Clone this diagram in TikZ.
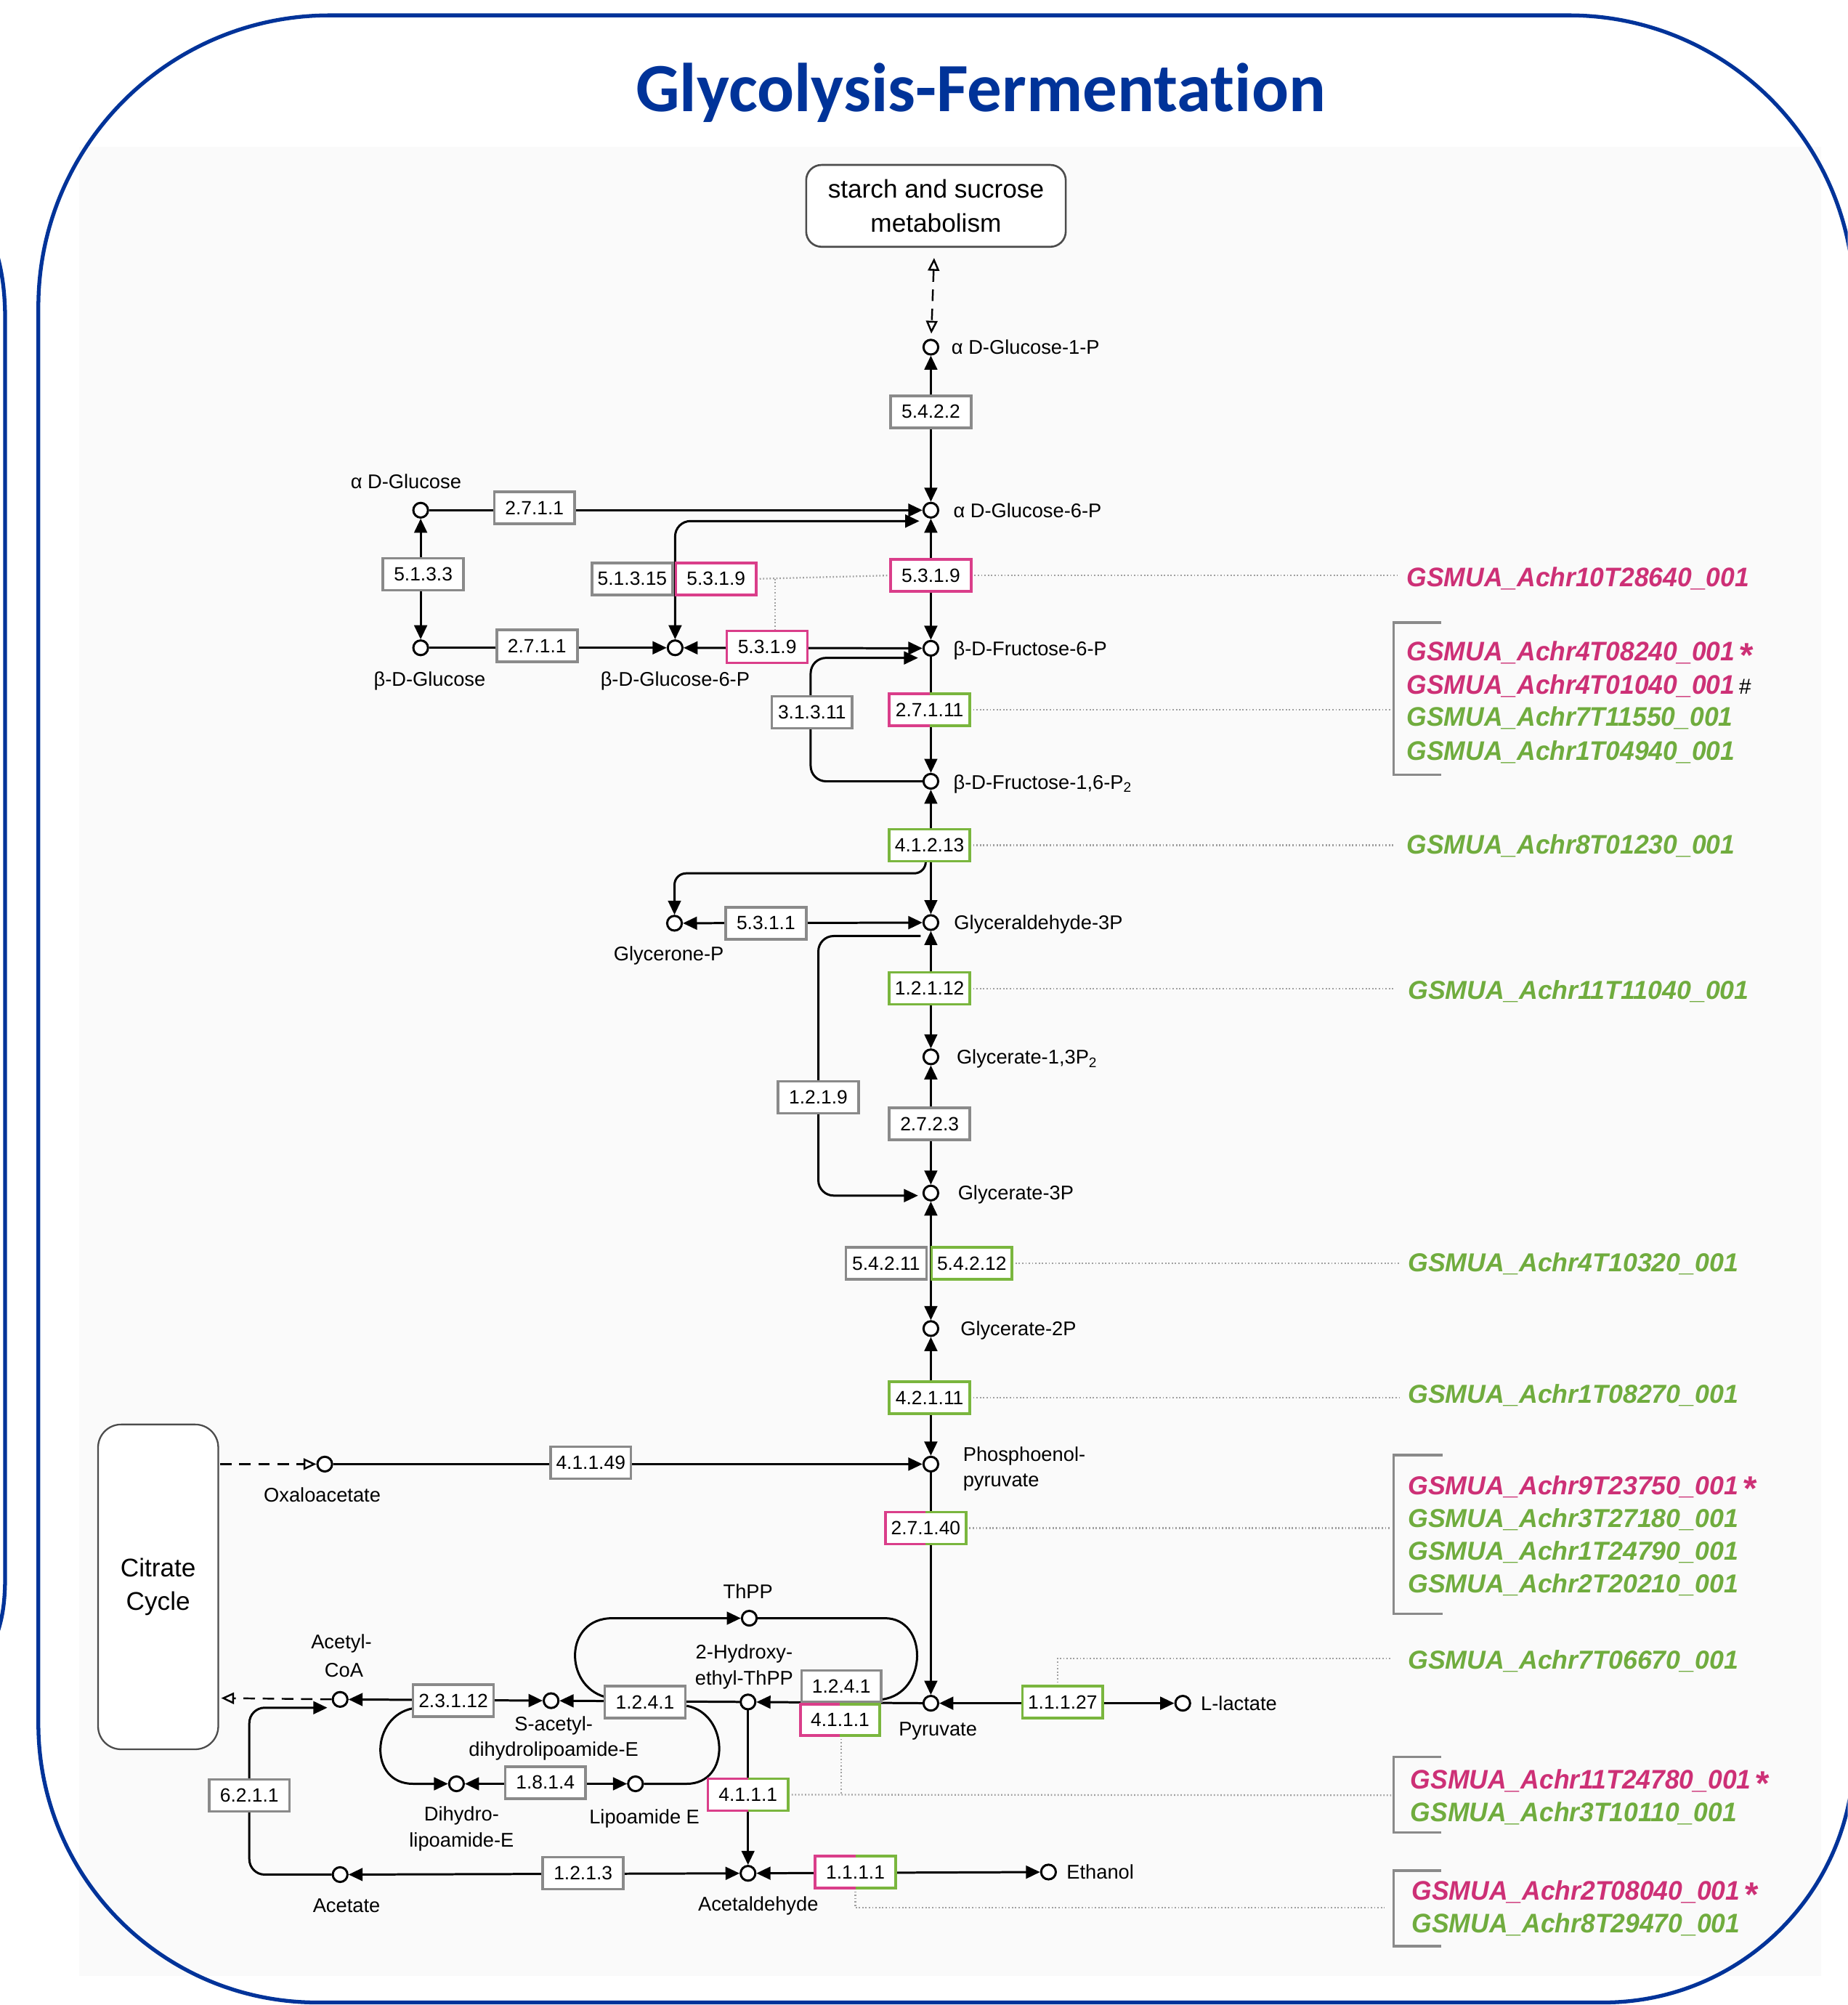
\documentclass[tikz,border=0pt]{standalone}
\usepackage{fontspec}
\setmainfont{Liberation Sans}
\newfontfamily\titlefont{Carlito}[RawFeature={-liga}]
\usepackage{graphicx}
\usetikzlibrary{arrows.meta}
\pgfdeclarelayer{bg}
\pgfdeclarelayer{lines}
\pgfsetlayers{bg,lines,main}
\definecolor{fblue}{RGB}{0,51,153}
\definecolor{pinkc}{RGB}{218,62,138}
\definecolor{greenc}{RGB}{122,182,62}
\definecolor{ecgray}{RGB}{138,138,138}
\definecolor{dotgray}{RGB}{160,160,160}
\definecolor{gpink}{RGB}{205,48,118}
\definecolor{ggreen}{RGB}{112,172,62}
\newcommand\labfont{\fontsize{15.5}{20.5}\selectfont}
\newcommand\ecfont{\fontsize{15}{18}\selectfont}
\newcommand\gA[1]{{\fontsize{21}{23}\selectfont\bfseries\itshape\scalebox{0.96}[1]{#1}}}
\newcommand\gB[1]{{\fontsize{20.3}{22}\selectfont\bfseries\itshape #1}}
\newcommand\gstar{\kern4pt\raisebox{-5pt}[12pt][0pt]{\fontsize{27}{27}\selectfont\bfseries *}}
\newcommand\ghash{\kern3pt{\color{black}\fontsize{17}{17}\selectfont\itshape\#}}
\newcommand\splitbox[1]{%
  \draw[pinkc, line width=2pt] (#1.north) -- (#1.north west) -- (#1.south west) -- (#1.south);
  \draw[greenc, line width=2pt] (#1.north) -- (#1.north east) -- (#1.south east) -- (#1.south);}
\begin{document}
\begin{tikzpicture}[x=1pt,y=-1pt,
  >={Triangle[length=11pt,width=10pt]},
  met/.style={circle, draw, line width=1.7pt, fill=white, minimum size=11.5pt, inner sep=0pt},
  lab/.style={inner sep=0pt, font=\labfont},
  ecbox/.style={rectangle, draw=ecgray, line width=2pt, fill=white, minimum width=63pt, minimum height=25pt, inner sep=0pt, outer sep=0pt, font=\ecfont},
  ecpink/.style={ecbox, draw=pinkc},
  ecgreen/.style={ecbox, draw=greenc},
  ecsplit/.style={ecbox, draw=none},
  conn/.style={line width=1.7pt, line join=round},
  dashline/.style={line width=1.4pt, dash pattern=on 9pt off 6pt},
  dots/.style={dotgray, line width=1.3pt, dash pattern=on 1pt off 1.6pt},
  brk/.style={ecgray, line width=2pt},
  gene/.style={inner sep=0pt, anchor=base west},
  frame/.style={draw=fblue, line width=3pt}]
\useasboundingbox (0,0) rectangle (1445,1568);
\clip (0,0) rectangle (1445,1568);
\begin{pgfonlayer}{bg}
\fill[black!2] (62,115) rectangle (1424,1545);
\end{pgfonlayer}

% title
\node[anchor=base, font={\titlefont\bfseries\fontsize{54}{60}\selectfont}, text=fblue, inner sep=0pt] (title) at (767,87) {Glycolysis-Fermentation};

% map boxes
\node[draw=black!70, line width=1.5pt, rounded corners=12pt, minimum width=203pt, minimum height=64pt, inner sep=0pt, align=center, fill=white, font=\fontsize{20}{27}\selectfont] (starch) at (732,161) {starch and sucrose\\metabolism};
\node[draw=black!70, line width=1.3pt, rounded corners=18pt, minimum width=94pt, minimum height=254pt, inner sep=0pt, align=center, fill=white, font=\fontsize{20}{26}\selectfont] (citrate) at (123.7,1241) {Citrate\\Cycle};

% metabolites
\node[met] (g1p) at (728,271.5) {};
\node[met] (g6p) at (728,399) {};
\node[met] (f6p) at (728,507) {};
\node[met] (f16p) at (728,611) {};
\node[met] (ga3p) at (728,721.5) {};
\node[met] (g13p) at (728,826.5) {};
\node[met] (g3p) at (728,933) {};
\node[met] (g2p) at (728,1039) {};
\node[met] (pep) at (728,1145) {};
\node[met] (pyr) at (728,1332) {};
\node[met] (aglc) at (329,399) {};
\node[met] (bglc) at (329,506.6) {};
\node[met] (bg6p) at (528,506.6) {};
\node[met] (gnp) at (527.5,722) {};
\node[met] (oaa) at (254,1145) {};
\node[met] (acoa) at (266,1329) {};
\node[met] (sac) at (431,1330) {};
\node[met] (hte) at (585,1331) {};
\node[met] (thpp) at (586,1265.5) {};
\node[met] (dhl) at (357,1395) {};
\node[met] (lipo) at (497,1395) {};
\node[met] (acet) at (266,1466) {};
\node[met] (acald) at (585,1465) {};
\node[met] (etoh) at (820,1464) {};
\node[met] (llac) at (925,1332) {};

% metabolite labels
\node[lab, anchor=base west] (l1) at (744,277) {α D-Glucose-1-P};
\node[lab, anchor=base west] (l2) at (745.5,405) {α D-Glucose-6-P};
\node[lab, anchor=base west] (l3) at (745.5,513) {β-D-Fructose-6-P};
\node[lab, anchor=base west] (l4) at (745.5,617) {β-D-Fructose-1,6-P\textsubscript{2}};
\node[lab, anchor=base west] (l5) at (746,727) {Glyceraldehyde-3P};
\node[lab, anchor=base west] (l6) at (748,832) {Glycerate-1,3P\textsubscript{2}};
\node[lab, anchor=base west] (l7) at (749,938.5) {Glycerate-3P};
\node[lab, anchor=base west] (l8) at (751,1044.5) {Glycerate-2P};
\node[lab, anchor=base west] (l9) at (753,1142.5) {Phosphoenol-};
\node[lab, anchor=base west] (l10) at (753,1162.5) {pyruvate};
\node[lab, anchor=base west] (l11) at (939,1337.5) {L-lactate};
\node[lab, anchor=base west] (l12) at (834,1469.5) {Ethanol};
\node[lab, anchor=base] (l13) at (317.5,382) {α D-Glucose};
\node[lab, anchor=base] (l14) at (336,536.5) {β-D-Glucose};
\node[lab, anchor=base] (l15) at (528,536.5) {β-D-Glucose-6-P};
\node[lab, anchor=base] (l16) at (523,751.5) {Glycerone-P};
\node[lab, anchor=base] (l17) at (252,1174.5) {Oxaloacetate};
\node[lab, anchor=base] (l18) at (585,1250) {ThPP};
\node[lab, anchor=base] (l19) at (582,1297.5) {2-Hydroxy-};
\node[lab, anchor=base] (l20) at (582,1317.5) {ethyl-ThPP};
\node[lab, anchor=base] (l21) at (267,1289.5) {Acetyl-};
\node[lab, anchor=base] (l22) at (269,1311.5) {CoA};
\node[lab, anchor=base] (l23) at (433,1353.5) {S-acetyl-};
\node[lab, anchor=base] (l24) at (433,1373.5) {dihydrolipoamide-E};
\node[lab, anchor=base] (l25) at (361,1424) {Dihydro-};
\node[lab, anchor=base] (l26) at (361,1444.5) {lipoamide-E};
\node[lab, anchor=base] (l27) at (504,1426) {Lipoamide E};
\node[lab, anchor=base] (l28) at (733.5,1357.5) {Pyruvate};
\node[lab, anchor=base] (l29) at (271,1495.5) {Acetate};
\node[lab, anchor=base] (l30) at (593,1494.5) {Acetaldehyde};

% enzymes
\node[ecbox] (e5422) at (728,322) {5.4.2.2};
\node[ecbox] (e2711a) at (418,397) {2.7.1.1};
\node[ecbox] (e5133) at (331,449) {5.1.3.3};
\node[ecbox] (e51315) at (494.5,452.7) {5.1.3.15};
\node[ecpink] (e5319a) at (560,452.7) {5.3.1.9};
\node[ecpink] (e5319m) at (728,450) {5.3.1.9};
\node[ecbox] (e2711b) at (420,505) {2.7.1.1};
\node[ecpink] (e5319b) at (600,506) {5.3.1.9};
\node[ecbox] (e31311) at (635,557) {3.1.3.11};
\node[ecsplit] (e27111) at (727,555) {2.7.1.11};
\node[ecgreen] (e41213) at (727,661) {4.1.2.13};
\node[ecbox] (e5311) at (599,722) {5.3.1.1};
\node[ecgreen] (e12112) at (727,773) {1.2.1.12};
\node[ecbox] (e1219) at (640,858) {1.2.1.9};
\node[ecbox] (e2723) at (727,879) {2.7.2.3};
\node[ecbox] (e54211) at (693,988) {5.4.2.11};
\node[ecgreen] (e54212) at (760,988) {5.4.2.12};
\node[ecgreen] (e42111) at (727,1093) {4.2.1.11};
\node[ecbox] (e41149) at (462,1144) {4.1.1.49};
\node[ecsplit] (e27140) at (724,1195) {2.7.1.40};
\node[ecbox] (e23112) at (354.5,1330) {2.3.1.12};
\node[ecbox] (e1241a) at (504.5,1331) {1.2.4.1};
\node[ecbox, minimum width=62pt, minimum height=24.5pt] (e1241b) at (658,1318.5) {1.2.4.1};
\node[ecsplit, minimum width=62pt, minimum height=24.5pt] (e4111a) at (657,1345) {4.1.1.1};
\node[ecgreen] (e11127) at (831,1331) {1.1.1.27};
\node[ecbox] (e1814) at (426.5,1394) {1.8.1.4};
\node[ecbox] (e6211) at (195,1404) {6.2.1.1};
\node[ecsplit] (e4111b) at (585,1403.5) {4.1.1.1};
\node[ecbox] (e1213) at (456,1465) {1.2.1.3};
\node[ecsplit] (e1111) at (669,1464) {1.1.1.1};
\splitbox{e27111}
\splitbox{e27140}
\splitbox{e4111a}
\splitbox{e4111b}
\splitbox{e1111}

% free ends
\coordinate (g6pin) at (719,407.5);
\coordinate (f6pin) at (718,514.5);
\coordinate (brA) at (724,673.5);
\coordinate (ga3pout) at (720,732);
\coordinate (g3pin) at (718,935);
\coordinate (cit1) at (172,1145);
\coordinate (cit2) at (173,1328);
\coordinate (lpA) at (473,1327);
\coordinate (lpB) at (537,1334);
\coordinate (lpC) at (690,1329);
\coordinate (lpD) at (323,1336);
\coordinate (acoain) at (256,1335.5);

\begin{pgfonlayer}{lines}
\draw[dashline, {Triangle[open,length=10pt,width=9pt,fill=white]}-{Triangle[open,length=10pt,width=9pt,fill=white]}, shorten <=8pt, shorten >=4pt] (starch) -- (g1p);
\draw[conn,<->] (g1p) -- (g6p);
\draw[conn,<->] (g6p) -- (f6p);
\draw[conn,->] (f6p) -- (f16p);
\draw[conn,<->] (f16p) -- (ga3p);
\draw[conn,<->] (ga3p) -- (g13p);
\draw[conn,<->] (g13p) -- (g3p);
\draw[conn,<->] (g3p) -- (g2p);
\draw[conn,<->] (g2p) -- (pep);
\draw[conn,->] (pep) -- (pyr);
\draw[conn,->] (aglc) -- (g6p);
\draw[conn,<->] (aglc) -- (bglc);
\draw[conn,->] (bglc) -- (bg6p);
\draw[conn,<->,rounded corners=12pt] (bg6p) |- (g6pin);
\draw[conn,<->] (bg6p) -- (f6p);
\draw[conn,->,rounded corners=12pt] (f16p) -- (634,611) -- (634,514.5) -- (f6pin);
\draw[conn,->,rounded corners=9pt] (brA) |- (527.5,683) -- (gnp);
\draw[conn,<->] (gnp) -- (ga3p);
\draw[conn,->,rounded corners=12pt] (ga3pout) -- (640,732) -- (640,935) -- (g3pin);
\draw[conn,->] (oaa) -- (pep);
\draw[dashline,-{Triangle[open,length=10pt,width=9pt,fill=white]}] (cit1) -- (oaa);
\draw[dashline,-{Triangle[open,length=10pt,width=9pt,fill=white]}] (acoa) -- (cit2);
\draw[conn,->] (pyr) -- (hte);
\draw[conn,->] (hte) -- (sac);
\draw[conn,<->] (acoa) -- (sac);
\draw[conn,->] (lpA) .. controls (441,1318) and (441,1265.5) .. (479,1265.5) -- (thpp);
\draw[conn] (thpp) -- (692,1265.5) .. controls (726,1265.5) and (726,1324) .. (lpC);
\draw[conn] (lpB) .. controls (570,1340) and (572,1395) .. (537,1395) -- (lipo);
\draw[conn,->] (lpD) .. controls (290,1342) and (288,1395) .. (323,1395) -- (dhl);
\draw[conn,<->] (dhl) -- (lipo);
\draw[conn,->] (hte) -- (acald);
\draw[conn,<->] (acet) -- (acald);
\draw[conn,<->] (acald) -- (etoh);
\draw[conn,->,rounded corners=12pt] (acet) -- (195,1466) -- (195,1335.5) -- (acoain);
\draw[conn,<->] (pyr) -- (llac);
% dotted gene links
\draw[dots] (e5319a.east) -- (e5319m.west);
\draw[dots] (606,452.7) -- (e5319b.north -| 606,0);
\draw[dots] (e5319m.east) -- (1093,450);
\draw[dots] (e27111.east) -- (1088,555);
\draw[dots] (e41213.east) -- (1090,661);
\draw[dots] (e12112.east) -- (1090,773);
\draw[dots] (e54212.east) -- (1095,988);
\draw[dots] (e42111.east) -- (1095,1093);
\draw[dots] (e27140.east) -- (1088,1195);
\draw[dots] (e11127.north -| 827,0) -- (827,1297) -- (1088,1297);
\draw[dots] (e4111a.south -| 658,0) -- (658,1404);
\draw[dots] (e4111b.east) -- (1088,1404);
\draw[dots] (e1111.south) -- (669,1492) -- (1083,1492);
\end{pgfonlayer}

% brackets
\draw[brk] (1127,487) -- (1090,487) -- (1090,606) -- (1127,606);
\draw[brk] (1128,1138) -- (1090,1138) -- (1090,1262) -- (1128,1262);
\draw[brk] (1127,1374) -- (1090,1374) -- (1090,1433) -- (1127,1433);
\draw[brk] (1127,1463) -- (1090,1463) -- (1090,1522) -- (1127,1522);

% genes
\node[gene, text=gpink] (n1) at (1100,458.7) {\gA{GSMUA\_Achr10T28640\_001}};
\node[gene, text=gpink] (n2) at (1100,516.7) {\gA{GSMUA\_Achr4T08240\_001}\gstar};
\node[gene, text=gpink] (n3) at (1100,542.7) {\gA{GSMUA\_Achr4T01040\_001}\ghash};
\node[gene, text=ggreen] (n4) at (1100,567.7) {\gA{GSMUA\_Achr7T11550\_001}};
\node[gene, text=ggreen] (n5) at (1100,594.7) {\gA{GSMUA\_Achr1T04940\_001}};
\node[gene, text=ggreen] (n6) at (1100,667.7) {\gA{GSMUA\_Achr8T01230\_001}};
\node[gene, text=ggreen] (n7) at (1101,781.2) {\gB{GSMUA\_Achr11T11040\_001}};
\node[gene, text=ggreen] (n8) at (1101,994.2) {\gB{GSMUA\_Achr4T10320\_001}};
\node[gene, text=ggreen] (n9) at (1101,1097.2) {\gB{GSMUA\_Achr1T08270\_001}};
\node[gene, text=gpink] (n10) at (1101,1168.7) {\gB{GSMUA\_Achr9T23750\_001}\gstar};
\node[gene, text=ggreen] (n11) at (1101,1194.2) {\gB{GSMUA\_Achr3T27180\_001}};
\node[gene, text=ggreen] (n12) at (1101,1220) {\gB{GSMUA\_Achr1T24790\_001}};
\node[gene, text=ggreen] (n13) at (1101,1245.8) {\gB{GSMUA\_Achr2T20210\_001}};
\node[gene, text=ggreen] (n14) at (1101,1305.2) {\gB{GSMUA\_Achr7T06670\_001}};
\node[gene, text=gpink] (n15) at (1103,1398.8) {\gA{GSMUA\_Achr11T24780\_001}\gstar};
\node[gene, text=ggreen] (n16) at (1103,1424.6) {\gA{GSMUA\_Achr3T10110\_001}};
\node[gene, text=gpink] (n17) at (1104,1485.8) {\gA{GSMUA\_Achr2T08040\_001}\gstar};
\node[gene, text=ggreen] (n18) at (1104,1511.6) {\gA{GSMUA\_Achr8T29470\_001}};

% frames
\draw[frame] (-10,178) .. controls (0,200) and (4,222) .. (4,250) -- (4,1232) .. controls (4,1258) and (1,1272) .. (-8,1292);
\draw[frame] (30,240) .. controls (30,114.1) and (132.1,12) .. (258,12) -- (1227,12) .. controls (1350.2,12) and (1450,111.8) .. (1450,235) -- (1450,1370) .. controls (1450,1478.3) and (1362.3,1566) .. (1254,1566) -- (248,1566) .. controls (127.6,1566) and (30,1468.4) .. (30,1348) -- cycle;
\end{tikzpicture}
\end{document}
